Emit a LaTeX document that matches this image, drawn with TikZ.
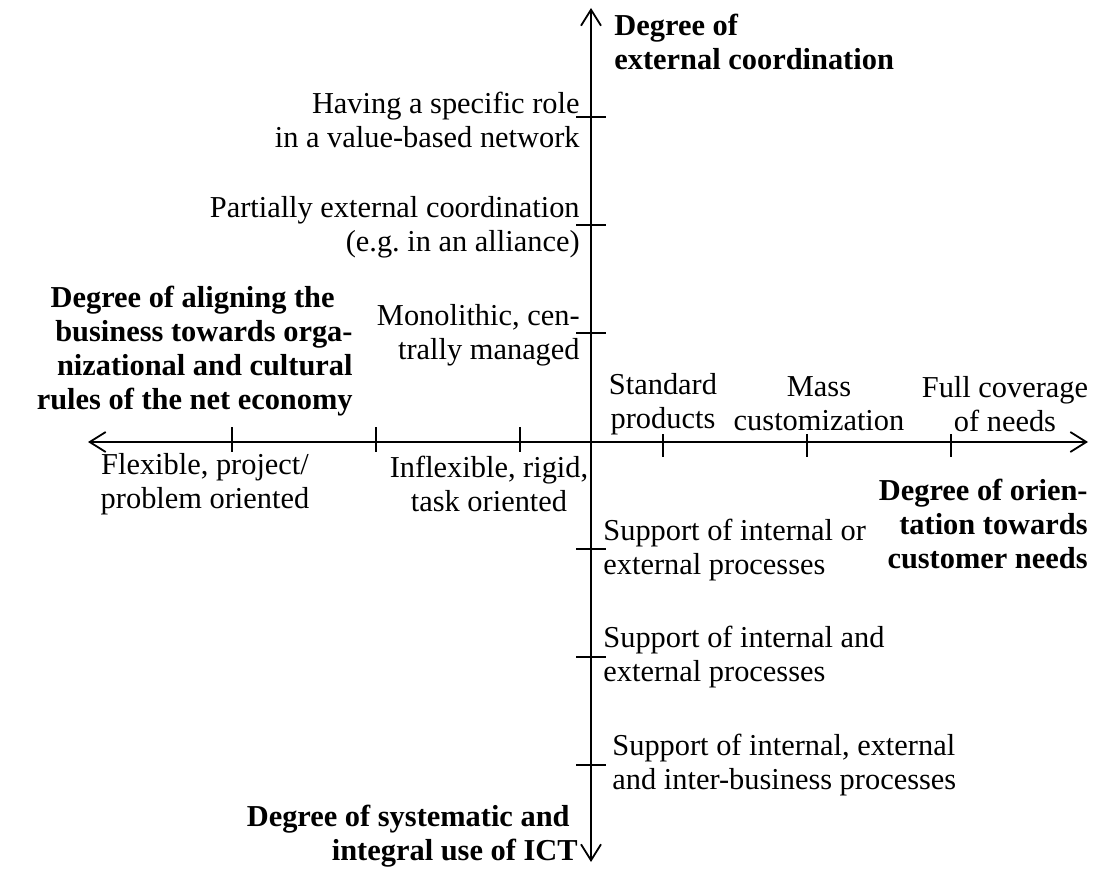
\documentclass[tikz,border=0pt]{standalone}
\usepackage{fontspec}
\setmainfont{Liberation Serif}
\usetikzlibrary{arrows.meta}
\begin{document}
\frenchspacing
\begin{tikzpicture}[x=0.5pt,y=-0.5pt,
  axis/.style={line width=1pt,{Straight Barb[length=8pt,width=10pt,line width=0.9pt]}-{Straight Barb[length=8pt,width=10pt,line width=0.9pt]}},
  tick/.style={line width=1pt},
  lbl/.style={inner sep=0pt,font=\fontsize{15.2}{17}\selectfont},
  blbl/.style={inner sep=0pt,font=\fontsize{15.2}{17}\selectfont\bfseries}]
\useasboundingbox (0,0) rectangle (1101,871);
% axes
\coordinate (O) at (591,442);
\coordinate (top) at (591,8);
\coordinate (bot) at (591,862);
\coordinate (lft) at (88,442);
\coordinate (rgt) at (1088,442);
\draw[axis] (bot) -- (top);
\draw[axis] (lft) -- (rgt);
% ticks on vertical axis
\foreach \y in {117,225,333,549,657,765} \draw[tick] (576,\y) -- (606,\y);
% ticks on horizontal axis
\foreach \x in {232,376,520} \draw[tick] (\x,427) -- (\x,452);
\foreach \x in {663,807,951} \draw[tick] (\x,434) -- (\x,457);
% axis titles
\node[blbl,anchor=west,align=left] (tUp) at (614,42) {Degree of\\external coordination};
\node[blbl,anchor=east,align=right] (tLeft) at (353,351) {Degree of aligning the\hspace*{9pt}\\business towards orga-\\nizational and cultural\\rules of the net economy};
\node[blbl,anchor=east,align=right] (tRight) at (1088,524) {Degree of orien-\\tation towards\\customer needs};
\node[blbl,anchor=east,align=right] (tDown) at (578,836) {Degree of systematic and\hspace*{4pt}\\integral use of ICT};
% upper labels
\node[lbl,anchor=east,align=right] (u3) at (580,120) {Having a specific role\\in a value-based network};
\node[lbl,anchor=east,align=right] (u2) at (580,227) {Partially external coordination\\(e.g. in an alliance)};
\node[lbl,anchor=east,align=right] (u1) at (580,335) {Monolithic, cen-\\trally managed};
% right labels
\node[lbl,align=center] (r1) at (663,404) {Standard\\products};
\node[lbl,align=center] (r2) at (819,404) {Mass\\customization};
\node[lbl,align=center] (r3) at (1005,404) {Full coverage\\of needs};
% left labels
\node[lbl,align=center] (l2) at (205,484) {Flexible, project/\\problem oriented};
\node[lbl,align=center] (l1) at (489,484) {Inflexible, rigid,\\task oriented};
% lower labels
\node[lbl,anchor=west,align=left] (d1) at (603,550) {Support of internal or\\external processes};
\node[lbl,anchor=west,align=left] (d2) at (603,657) {Support of internal and\\external processes};
\node[lbl,anchor=west,align=left] (d3) at (612,765) {Support of internal, external\\and inter-business processes};
\end{tikzpicture}
\end{document}
